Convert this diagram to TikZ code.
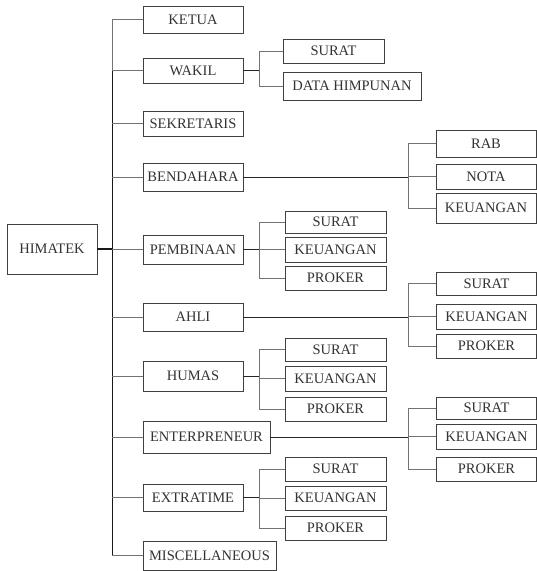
\documentclass[tikz,border=0pt]{standalone}
\usepackage{fontspec}
\setmainfont{Liberation Serif}
\begin{document}
\begin{tikzpicture}[x=1pt,y=-1pt,
  box/.style={draw=black!75,line width=0.8pt,fill=white,text=black!80,font=\fontsize{14.5}{16}\selectfont,inner sep=0pt,anchor=center},
  lv1/.style={box,minimum width=100pt},
  sub/.style={box,minimum width=101pt},
  br/.style={draw=black!55,line width=0.8pt},
  mainline/.style={draw=black!90,line width=1pt},
  longline/.style={draw=black!85,line width=1pt}]
\useasboundingbox (0,0) rectangle (537,571);
% root
\node[box,minimum width=90pt,minimum height=50pt] (him) at (52,249) {HIMATEK};
% level 1
\node[lv1,minimum height=27pt] (ketua) at (193,19.5) {KETUA};
\node[lv1,minimum height=25pt] (wakil) at (193,70.5) {WAKIL};
\node[lv1,minimum height=25pt] (sekr) at (193,123.5) {SEKRETARIS};
\node[lv1,minimum height=28pt] (bend) at (193,177) {BENDAHARA};
\node[lv1,minimum height=29pt] (pemb) at (193,249.5) {PEMBINAAN};
\node[lv1,minimum height=28pt] (ahli) at (193,317) {AHLI};
\node[lv1,minimum height=30pt] (humas) at (193,376) {HUMAS};
\node[box,minimum width=127pt,minimum height=32pt] (entr) at (206.5,437) {ENTERPRENEUR};
\node[lv1,minimum height=27pt] (extra) at (193,497.5) {EXTRATIME};
\node[box,minimum width=133pt,minimum height=29pt] (misc) at (209.5,555.5) {MISCELLANEOUS};
% trunk
\coordinate (trunk) at (112,0);
\coordinate (bl) at (259,0);
\coordinate (brr) at (408,0);
\draw[br] (trunk |- ketua.west) -- (trunk |- wakil.west);
\draw[mainline] (trunk |- wakil.west) -- (trunk |- misc.west);
\draw[mainline,line width=1.3pt] (him.east) -- (him.east -| trunk);
\foreach \n in {ketua,wakil,sekr,bend,pemb,ahli,humas,entr,extra,misc}
  \draw[br] (trunk |- \n.west) -- (\n.west);
% WAKIL
\node[box,minimum width=101pt,minimum height=24pt] (wsurat) at (333.5,51) {SURAT};
\node[box,minimum width=138pt,minimum height=28pt] (wdata) at (352,86) {DATA HIMPUNAN};
\draw[longline] (wakil.east) -- (wakil.east -| bl);
\draw[br] (wsurat.west) -| (bl |- wdata.west) -- (wdata.west);
% BENDAHARA
\node[box,minimum width=100pt,minimum height=27pt] (brab) at (486,143.5) {RAB};
\node[box,minimum width=100pt,minimum height=25pt] (bnota) at (486,176.5) {NOTA};
\node[box,minimum width=100pt,minimum height=30pt] (bkeu) at (486,208) {KEUANGAN};
\draw[longline] (bend.east) -- (bend.east -| brr);
\draw[br] (brab.west) -| (brr |- bkeu.west) -- (bkeu.west);
\draw[br] (brr |- bnota.west) -- (bnota.west);
% PEMBINAAN
\node[sub,minimum height=22pt] (psurat) at (335.5,222) {SURAT};
\node[sub,minimum height=25pt] (pkeu) at (335.5,249.5) {KEUANGAN};
\node[sub,minimum height=24pt] (ppro) at (335.5,278) {PROKER};
\draw[longline] (pemb.east) -- (pemb.east -| bl);
\draw[br] (psurat.west) -| (bl |- ppro.west) -- (ppro.west);
\draw[br] (bl |- pkeu.west) -- (pkeu.west);
% AHLI
\node[box,minimum width=100pt,minimum height=23pt] (asurat) at (486.5,283.5) {SURAT};
\node[box,minimum width=100pt,minimum height=25pt] (akeu) at (486.5,316.5) {KEUANGAN};
\node[box,minimum width=100pt,minimum height=24pt] (apro) at (486.5,346) {PROKER};
\draw[longline] (ahli.east) -- (ahli.east -| brr);
\draw[br] (asurat.west) -| (brr |- apro.west) -- (apro.west);
\draw[br] (brr |- akeu.west) -- (akeu.west);
% HUMAS
\node[sub,minimum height=23pt] (hsurat) at (335.5,349.5) {SURAT};
\node[sub,minimum height=25pt] (hkeu) at (335.5,378.5) {KEUANGAN};
\node[sub,minimum height=24pt] (hpro) at (335.5,409) {PROKER};
\draw[longline] (humas.east) -- (humas.east -| bl);
\draw[br] (hsurat.west) -| (bl |- hpro.west) -- (hpro.west);
\draw[br] (bl |- hkeu.west) -- (hkeu.west);
% ENTERPRENEUR
\node[box,minimum width=100pt,minimum height=22pt] (esurat) at (486.5,408) {SURAT};
\node[box,minimum width=100pt,minimum height=25pt] (ekeu) at (486.5,436.5) {KEUANGAN};
\node[box,minimum width=100pt,minimum height=24pt] (epro) at (486.5,469) {PROKER};
\draw[longline] (entr.east) -- (entr.east -| brr);
\draw[br] (esurat.west) -| (brr |- epro.west) -- (epro.west);
\draw[br] (brr |- ekeu.west) -- (ekeu.west);
% EXTRATIME
\node[sub,minimum height=24pt] (xsurat) at (335.5,469) {SURAT};
\node[sub,minimum height=24pt] (xkeu) at (335.5,498) {KEUANGAN};
\node[sub,minimum height=24pt] (xpro) at (335.5,528) {PROKER};
\draw[longline] (extra.east) -- (extra.east -| bl);
\draw[br] (xsurat.west) -| (bl |- xpro.west) -- (xpro.west);
\draw[br] (bl |- xkeu.west) -- (xkeu.west);
\end{tikzpicture}
\end{document}
